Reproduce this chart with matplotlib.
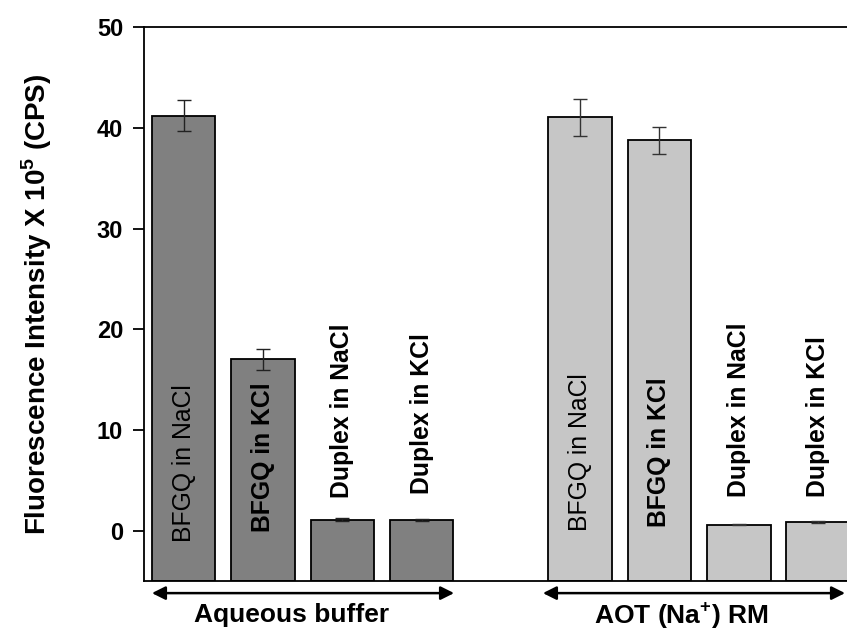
import numpy as np
import matplotlib
matplotlib.use('Agg')
import matplotlib.pyplot as plt

plt.rcParams['font.family'] = ['Liberation Sans', 'DejaVu Sans']
plt.rcParams['mathtext.fontset'] = 'custom'
plt.rcParams['mathtext.rm'] = 'Liberation Sans'
plt.rcParams['mathtext.bf'] = 'Liberation Sans:bold'

# data
bar_labels = ['BFGQ in NaCl', 'BFGQ in KCl', 'Duplex in NaCl', 'Duplex in KCl']
groups = ['Aqueous buffer', r'AOT (Na$^{\mathbf{+}}$) RM']
aq_vals = [41.2, 17.0, 1.1, 1.05]
aq_err = [1.55, 1.05, 0.12, 0.08]
rm_vals = [41.05, 38.75, 0.6, 0.85]
rm_err = [1.85, 1.3, 0.05, 0.08]

aq_x = np.arange(4)
rm_x = np.arange(4) + 5
ymin = -5

fig = plt.figure(figsize=(8.47, 6.33), dpi=100)
ax = fig.add_axes([0.170, 0.0821, 0.8895, 0.875])

# bars start at the bottom of the axis, as in the original
ax.bar(aq_x, np.array(aq_vals) - ymin, bottom=ymin, width=0.8, color='#808080',
       edgecolor='black', linewidth=1.3, zorder=2)
ax.bar(rm_x, np.array(rm_vals) - ymin, bottom=ymin, width=0.8, color='#c6c6c6',
       edgecolor='black', linewidth=1.3, zorder=2)
ax.errorbar(aq_x, aq_vals, yerr=aq_err, fmt='none', ecolor='#222222', elinewidth=1.0,
            capsize=5, capthick=1.0, zorder=3)
ax.errorbar(rm_x, rm_vals, yerr=rm_err, fmt='none', ecolor='#333333', elinewidth=1.0,
            capsize=5, capthick=1.0, zorder=3)

# text inside / above bars
aq_text_y = [-1.1, -0.1, 3.2, 3.6]
rm_text_y = [0.0, 0.35, 3.3, 3.3]
weights = ['normal', 'bold', 'bold', 'bold']
for xs, ys in [(aq_x, aq_text_y), (rm_x, rm_text_y)]:
    for x, y, lab, w in zip(xs, ys, bar_labels, weights):
        ax.text(x, y, lab, rotation=90, ha='center', va='bottom', fontsize=17.8,
                fontweight=w, zorder=4)

ax.set_xlim(-0.5, 9.0)
ax.set_ylim(ymin, 50)
ax.set_yticks([0, 10, 20, 30, 40, 50])
ax.set_xticks([])
ax.tick_params(axis='y', direction='out', length=8, width=1.3, labelsize=17, pad=7)
for t in ax.get_yticklabels():
    t.set_fontweight('bold')
for sp in ax.spines.values():
    sp.set_linewidth(1.3)

ax.set_ylabel(r'Fluorescence Intensity X 10$^{\mathbf{5}}$ (CPS)', fontsize=20,
              fontweight='bold')
ax.yaxis.set_label_coords(-0.12, 0.5)

# group arrows and names below the axis
for x0, x1, name, xc in [(-0.4, 3.41, groups[0], 1.36), (4.53, 8.34, groups[1], 6.28)]:
    ax.annotate('', xy=(x0, -6.2), xytext=(x1, -6.2), xycoords='data', annotation_clip=False,
                arrowprops=dict(arrowstyle='<|-|>', color='black', lw=1.8,
                                mutation_scale=20, shrinkA=0, shrinkB=0))
    ax.text(xc, -8.4, name, ha='center', va='center', fontsize=19, fontweight='bold',
            clip_on=False)

fig.savefig('out.png', dpi=100)
